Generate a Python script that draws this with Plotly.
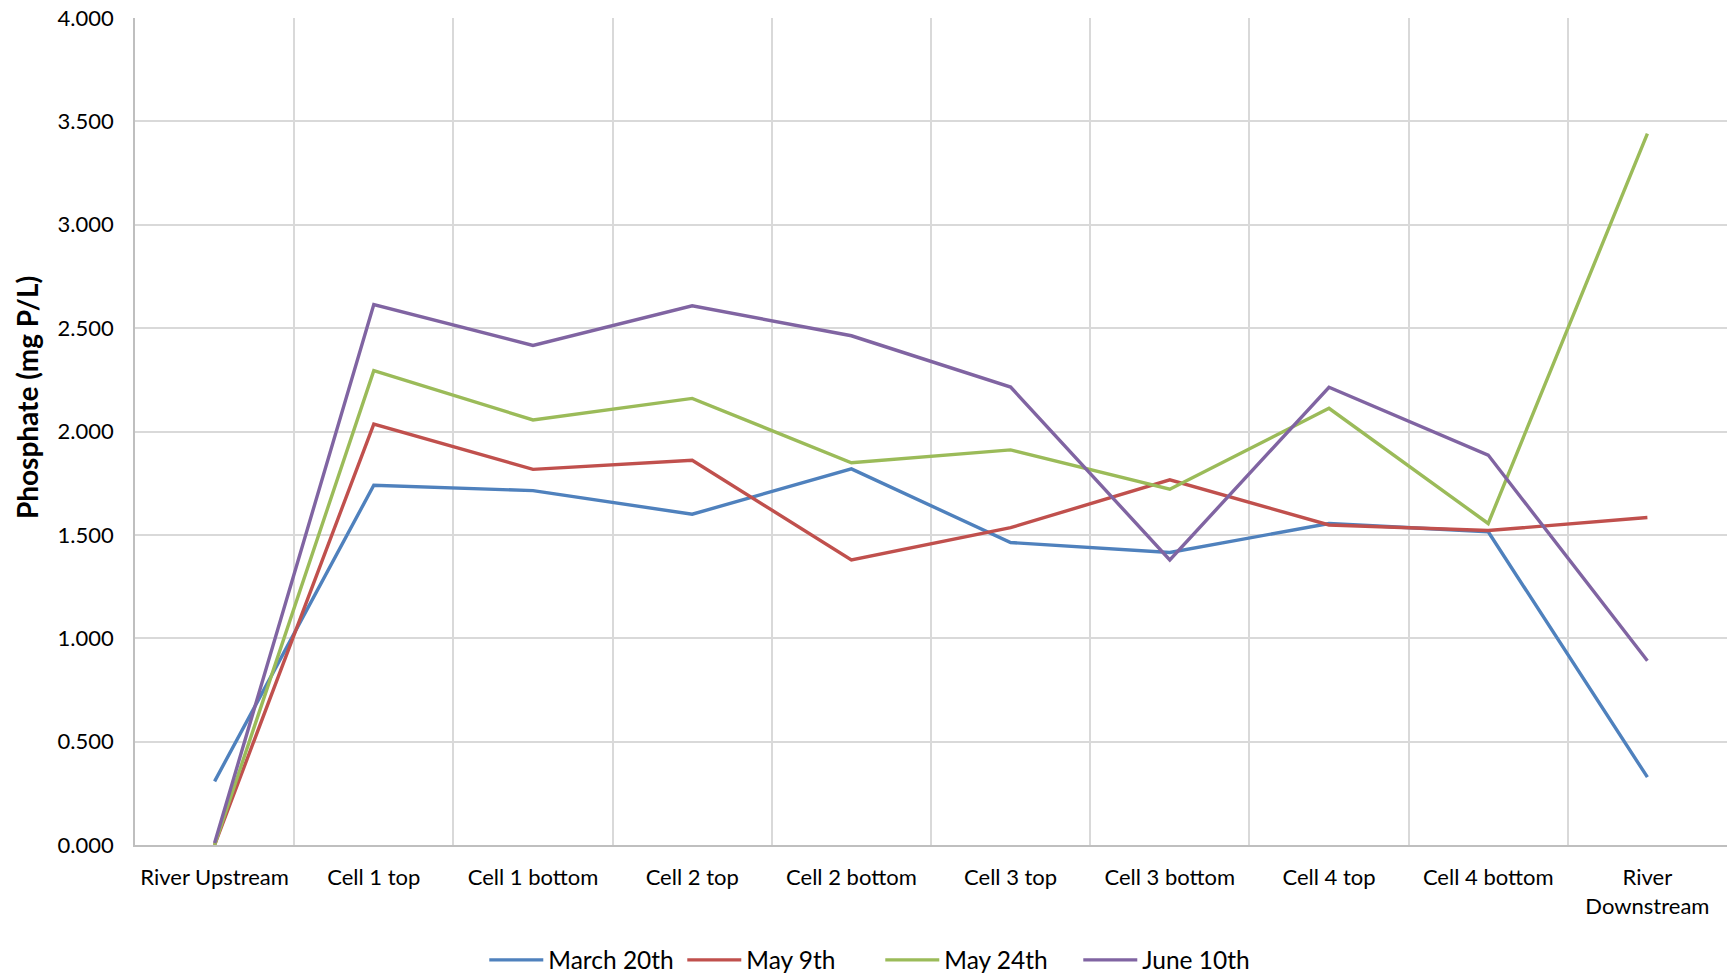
import plotly.graph_objects as go

# Sampling sites along the wetland treatment train
sites = ["River Upstream", "Cell 1 top", "Cell 1 bottom", "Cell 2 top", "Cell 2 bottom",
         "Cell 3 top", "Cell 3 bottom", "Cell 4 top", "Cell 4 bottom", "River Downstream"]
site_labels = ["River Upstream", "Cell 1 top", "Cell 1 bottom", "Cell 2 top", "Cell 2 bottom",
               "Cell 3 top", "Cell 3 bottom", "Cell 4 top", "Cell 4 bottom", "River<br>Downstream"]

# Phosphate concentration (mg P/L) per sampling date
march_20 = [0.308, 1.740, 1.714, 1.600, 1.819, 1.463, 1.415, 1.555, 1.515, 0.328]
may_9 = [0.000, 2.036, 1.817, 1.861, 1.379, 1.535, 1.766, 1.548, 1.521, 1.584]
may_24 = [0.000, 2.294, 2.056, 2.160, 1.849, 1.911, 1.721, 2.112, 1.555, 3.441]
june_10 = [0.010, 2.614, 2.416, 2.608, 2.463, 2.215, 1.379, 2.214, 1.886, 0.891]

y_ticks = [0.0, 0.5, 1.0, 1.5, 2.0, 2.5, 3.0, 3.5, 4.0]

series = [
    ("March 20th", march_20, "#4F81BD"),
    ("May 9th", may_9, "#C0504D"),
    ("May 24th", may_24, "#9BBB59"),
    ("June 10th", june_10, "#8064A2"),
]

fig = go.Figure()
for name, values, color in series:
    fig.add_trace(go.Scatter(
        x=sites, y=values, name=name, mode="lines",
        line=dict(color=color, width=3.4),
    ))

font_family = "Lato, 'Liberation Sans', sans-serif"

fig.update_layout(
    width=1735, height=975,
    margin=dict(l=135, r=8, t=18, b=130, autoexpand=False),
    paper_bgcolor="white", plot_bgcolor="white",
    font=dict(family=font_family, size=22, color="#000000"),
    showlegend=True,
    legend=dict(
        orientation="h", x=0.2194, xanchor="left",
        y=-0.139, yanchor="middle",
        font=dict(size=24.5), tracegroupgap=0,
        itemwidth=54, entrywidth=129, entrywidthmode="pixels",
    ),
    xaxis=dict(
        type="category", categoryorder="array", categoryarray=sites,
        range=[-0.5, len(sites) - 0.5],
        tickmode="array", tickvals=sites, ticktext=site_labels,
        tickson="boundaries", ticks="", showgrid=True, tickangle=0,
        gridcolor="#D9D9D9", gridwidth=1.5, automargin=False,
        showline=True, linecolor="#BFBFBF", linewidth=1.5,
        mirror=False, zeroline=False, ticklabelstandoff=12,
    ),
    yaxis=dict(
        range=[0, 4.0], tickvals=y_ticks, automargin=False,
        tickformat=".3f", ticks="", showgrid=True,
        gridcolor="#D9D9D9", gridwidth=1.5,
        showline=True, linecolor="#BFBFBF", linewidth=1.5,
        zeroline=False, ticklabelstandoff=15,
    ),
    annotations=[dict(
        text="<b>Phosphate (mg P/L)</b>", textangle=-90,
        xref="paper", yref="paper", x=-0.0678, y=0.5405,
        xanchor="center", yanchor="middle", showarrow=False,
        font=dict(size=28),
    )],
)

fig.write_html("out.html")
